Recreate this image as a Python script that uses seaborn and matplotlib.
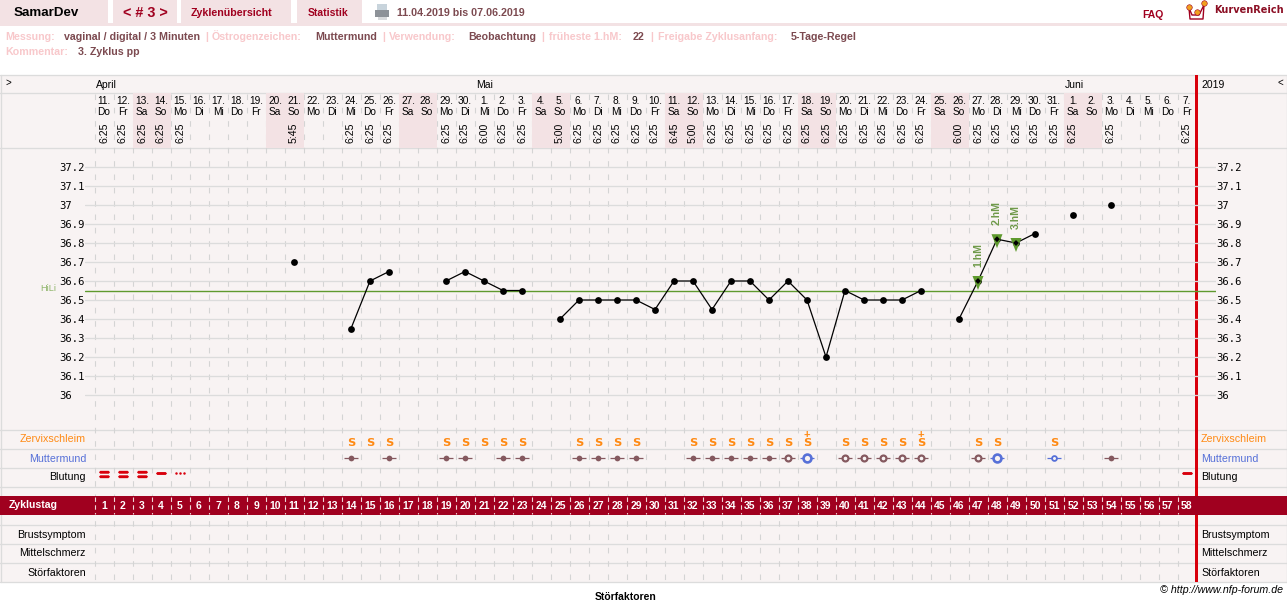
import numpy as np
import pandas as pd
import matplotlib.pyplot as plt
from matplotlib.path import Path
import seaborn as sns

# Daten aus der Zykluskurve
cycle_days = list(range(1, 59))
date_nums = [11, 12, 13, 14, 15, 16, 17, 18, 19, 20, 21, 22, 23, 24, 25, 26, 27, 28, 29, 30,
             1, 2, 3, 4, 5, 6, 7, 8, 9, 10, 11, 12, 13, 14, 15, 16, 17, 18, 19, 20, 21, 22, 23, 24, 25, 26, 27, 28, 29, 30, 31,
             1, 2, 3, 4, 5, 6, 7]
weekdays = ['Do', 'Fr', 'Sa', 'So', 'Mo', 'Di', 'Mi', 'Do', 'Fr', 'Sa', 'So', 'Mo', 'Di', 'Mi', 'Do', 'Fr', 'Sa', 'So', 'Mo', 'Di',
            'Mi', 'Do', 'Fr', 'Sa', 'So', 'Mo', 'Di', 'Mi', 'Do', 'Fr', 'Sa', 'So', 'Mo', 'Di', 'Mi', 'Do', 'Fr', 'Sa', 'So', 'Mo',
            'Di', 'Mi', 'Do', 'Fr', 'Sa', 'So', 'Mo', 'Di', 'Mi', 'Do', 'Fr', 'Sa', 'So', 'Mo', 'Di', 'Mi', 'Do', 'Fr']
times = ['6:25', '6:25', '6:25', '6:25', '6:25', '', '', '', '', '', '5:45', '', '', '6:25', '6:25', '6:25', '', '', '6:25', '6:25',
         '6:00', '6:25', '6:25', '', '5:00', '6:25', '6:25', '6:25', '6:25', '6:25', '6:45', '5:00', '6:25', '6:25', '6:25', '6:25',
         '6:25', '6:25', '6:25', '6:25', '6:25', '6:25', '6:25', '6:25', '', '6:00', '6:25', '6:25', '6:25', '6:25', '6:25', '6:25',
         '', '6:25', '', '', '', '6:25']
temps = [np.nan, np.nan, np.nan, np.nan, np.nan, np.nan, np.nan, np.nan, np.nan, np.nan, 36.7, np.nan, np.nan,
         36.35, 36.6, 36.65, np.nan, np.nan, 36.6, 36.65, 36.6, 36.55, 36.55, np.nan,
         36.4, 36.5, 36.5, 36.5, 36.5, 36.45, 36.6, 36.6, 36.45, 36.6, 36.6, 36.5, 36.6, 36.5, 36.2,
         36.55, 36.5, 36.5, 36.5, 36.55, np.nan, 36.4, 36.6, 36.82, 36.8, 36.85, np.nan, 36.95, np.nan, 37.0,
         np.nan, np.nan, np.nan, np.nan]
temp_ticks = [37.2, 37.1, 37.0, 36.9, 36.8, 36.7, 36.6, 36.5, 36.4, 36.3, 36.2, 36.1, 36.0]
temp_labels = ['37.2', '37.1', '37', '36.9', '36.8', '36.7', '36.6', '36.5', '36.4', '36.3', '36.2', '36.1', '36']
hili = 36.55
hm_days = [47, 48, 49]
hm_labels = ['1.hM', '2.hM', '3.hM']
schleim_days = [14, 15, 16, 19, 20, 21, 22, 23, 26, 27, 28, 29, 32, 33, 34, 35, 36, 37, 38, 40, 41, 42, 43, 44, 47, 48, 51]
schleim_plus_days = [38, 44]
mm_dot_days = [14, 16, 19, 20, 22, 23, 26, 27, 28, 29, 32, 33, 34, 35, 36, 54]
mm_ring_days = [37, 40, 41, 42, 43, 44, 47]
mm_big_days = [38, 48]
mm_small_days = [51]
blut_stark_days = [1, 2, 3]
blut_mittel_days = [4, 58]
blut_schmier_days = [5]
months = ['April', 'Mai', 'Juni']
month_first_days = [1, 21, 52]
row_names = ['Zervixschleim', 'Muttermund', 'Blutung']
lower_rows = ['Brustsymptom', 'Mittelschmerz', 'Störfaktoren']

W, H = 1287, 602
BG = '#f8f3f3'
PINK = '#f3e2e4'
LINE = '#dcdcdc'
DARKRED = '#a0001f'
RED = '#d8000c'
ORANGE = '#ff8a14'
BLUE = '#5670d8'
BROWN = '#85595f'
GREEN = '#5f9a2e'
PALE = '#f8c8cb'
VALUE = '#7c4a50'

sns.set_theme(style='white')
plt.rcParams['font.family'] = ['Liberation Sans', 'DejaVu Sans']

fig = plt.figure(figsize=(W / 100, H / 100), dpi=100)


def px_axes(left, top, right, bottom, zorder):
    a = fig.add_axes([left / W, 1 - bottom / H, (right - left) / W, (bottom - top) / H], zorder=zorder)
    a.patch.set_alpha(0)
    return a


def day_range(left, right):
    return 1 + (left - 104) / 19, 1 + (right - 104) / 19


# Seite: Kopfzeile, Tabellenraster
page = px_axes(0, 0, W, H, 0)
page.set_xlim(0, W)
page.set_ylim(H, 0)
page.axis('off')

for x0, x1 in [(0, 108), (113, 177), (181, 291), (297, 362)]:
    page.fill_between([x0, x1], 0, 23, color=PINK, lw=0)
page.fill_between([0, W], 23, 26, color=PINK, lw=0)
page.text(46, 13, 'SamarDev', ha='center', va='center', fontsize=9.6, fontweight='bold', color='black')
page.text(145, 13, '< # 3 >', ha='center', va='center', fontsize=10.4, fontweight='bold', color=DARKRED)
page.text(231.5, 13.5, 'Zyklenübersicht', ha='center', va='center', fontsize=7.7, fontweight='bold', color=DARKRED)
page.text(328, 13.5, 'Statistik', ha='center', va='center', fontsize=7.5, fontweight='bold', color=DARKRED)
page.fill_between([377, 387], 4, 10, color='#c8d4dc', lw=0)
page.fill_between([375, 389], 10, 17, color='#8d9298', lw=0)
page.fill_between([378, 387], 17, 20, color='#d8dadc', lw=0)
page.text(397, 13.5, '11.04.2019 bis 07.06.2019', va='center', fontsize=7.7, fontweight='bold', color=VALUE)
page.text(1142, 15, 'FAQ', va='center', fontsize=7.5, fontweight='bold', color=DARKRED)
page.plot([1189, 1192, 1199, 1204], [8, 15, 15, 5], color=DARKRED, lw=1)
page.plot([1189, 1190, 1203, 1204], [8, 19, 19, 5], color=DARKRED, lw=1)
page.scatter([1189, 1197, 1204], [7, 12, 3], s=16, color='#f0a020', zorder=3, edgecolor=DARKRED, lw=0.4)
page.text(1214, 10, 'KurvenReich', va='center', family='DejaVu Sans', fontsize=7, fontweight='bold', color='#8c0f24')

meta = [(5, 'Messung:', PALE), (64, 'vaginal / digital / 3 Minuten', VALUE), (205, '|', PALE),
        (212, 'Östrogenzeichen:', PALE), (315, 'Muttermund', VALUE), (382, '|', PALE),
        (389, 'Verwendung:', PALE), (468, 'Beobachtung', VALUE), (541, '|', PALE),
        (549, 'früheste 1.hM:', PALE), (633, '22', VALUE), (650, '|', PALE),
        (658, 'Freigabe Zyklusanfang:', PALE), (791, '5-Tage-Regel', VALUE)]
for x, s, c in meta:
    page.text(x, 40, s, va='baseline', fontsize=7.65, fontweight='bold', color=c)
page.text(5, 55, 'Kommentar:', va='baseline', fontsize=7.65, fontweight='bold', color=PALE)
page.text(78, 55, '3. Zyklus pp', va='baseline', fontsize=7.65, fontweight='bold', color=VALUE)

page.fill_between([0, W], 75, 582, color=BG, lw=0, zorder=0)
for y in [75, 93, 148, 430, 449, 468, 487, 525, 544, 563, 582]:
    page.plot([0, W], [y, y], color=LINE, lw=0.95, zorder=1)
page.plot([0.5, 0.5], [75, 582], color=LINE, lw=0.95, zorder=1)
page.plot([W - 0.5, W - 0.5], [75, 582], color=LINE, lw=0.95, zorder=1)

page.text(5, 83, '>', va='center', fontsize=7, color='black')
page.text(1278, 83, '<', va='center', fontsize=7, color='black')
page.text(1201, 85, '2019', va='center', fontsize=7.5, color='black')
page.text(1283, 590, '© http://www.nfp-forum.de', ha='right', va='center', fontsize=7.7, style='italic', color='black')
page.text(626, 600, 'Störfaktoren', ha='center', va='baseline', fontsize=7.5, fontweight='bold', color='black')

# Datumskopf, Wochenenden hinterlegt
head = px_axes(85, 93, 1216, 148, 2)
head.set_xlim(*day_range(85, 1216))
head.set_ylim(55, 0)
head.axis('off')
for d, num, wd, t in zip(cycle_days, date_nums, weekdays, times):
    if wd in ('Sa', 'So'):
        head.axvspan(d - 0.5, d + 0.5, color=PINK, lw=0, zorder=0)
    head.text(d, 8, f'{num}.', ha='center', va='center', fontsize=7.3, color='black')
    head.text(d, 18.5, wd, ha='center', va='center', fontsize=7.3, color='black')
    if t:
        head.text(d, 40, t, ha='center', va='center', rotation=90, fontsize=7.6, color='black')

# gestrichelte Tagesgrenzen
for k in range(59):
    x = 94.5 + 19 * k
    page.plot([x, x], [94, 582], color='#d4d4d4', lw=0.8, ls=(0, (5, 7)), zorder=1.5)

month_ax = px_axes(85, 75, 1216, 93, 2)
month_ax.set_xlim(*day_range(85, 1216))
month_ax.set_ylim(18, 0)
month_ax.axis('off')
for name, d in zip(months, month_first_days):
    month_ax.text(d - 0.42, 10, name, va='center', fontsize=7.5, color='black')

# Temperaturkurve
df = pd.DataFrame({'zyklustag': cycle_days, 'temp': temps})
df['segment'] = df['temp'].isna().cumsum()
df_temp = df.dropna()

ax = px_axes(85, 148, 1216, 430, 3)
ax.set_xlim(*day_range(85, 1216))
ax.set_ylim(37.2 - 263 / 190, 37.2 + 19 / 190)
ax.set_yticks(temp_ticks, temp_labels)
ax.set_xticks([])
ax.tick_params(axis='y', length=0, pad=18.7, labelsize=7.6, colors='black')
for lab in ax.get_yticklabels():
    lab.set_ha('left')
    lab.set_family('DejaVu Sans Mono')
for s in ax.spines.values():
    s.set_visible(False)
for t in temp_ticks:
    ax.axhline(t, color=LINE, lw=0.95, zorder=1)
ax.axhline(hili, color=GREEN, lw=1.0, zorder=2)
page.text(40, 288.5, 'HiLi', va='center', fontsize=6.6, color='#8fb56a')

sns.lineplot(data=df_temp, x='zyklustag', y='temp', units='segment', estimator=None, color='black', lw=0.9,
             marker='o', markersize=4.9, markeredgewidth=0, ax=ax, zorder=3, legend=False)

# Dreieck etwas unterhalb des Messpunkts, Messpunkt klein darüber
hm_marker = Path([(-5.5, 5), (5.5, 5), (0, -9), (-5.5, 5)], [Path.MOVETO, Path.LINETO, Path.LINETO, Path.CLOSEPOLY])
df_hm = df[df['zyklustag'].isin(hm_days)]
sns.scatterplot(data=df_hm, x='zyklustag', y='temp', marker=hm_marker, s=168, color=GREEN, edgecolor='none', ax=ax, zorder=4, legend=False)
sns.scatterplot(data=df_hm, x='zyklustag', y='temp', marker='D', s=9, color='black', edgecolor='none', ax=ax, zorder=5, legend=False)
ax.set_xlabel('')
ax.set_ylabel('')
for d, temp, lab in zip(hm_days, df_hm['temp'], hm_labels):
    ax.annotate(lab, (d, temp), xytext=(0, 10), textcoords='offset points', rotation=90, ha='center', va='bottom',
                fontsize=7.6, fontweight='bold', color='#6f9a4a')

ax_r = ax.twinx()
ax_r.set_ylim(ax.get_ylim())
ax_r.set_yticks(temp_ticks, temp_labels)
ax_r.tick_params(axis='y', length=0, pad=0.5, labelsize=7.6, colors='black')
for lab in ax_r.get_yticklabels():
    lab.set_family('DejaVu Sans Mono')
ax_r.patch.set_alpha(0)
for s in ax_r.spines.values():
    s.set_visible(False)
ax_r.grid(False)

# Symptomzeilen
rows = px_axes(85, 430, 1216, 487, 3)
rows.set_xlim(*day_range(85, 1216))
rows.set_ylim(2.5, -0.5)
for d in schleim_days:
    rows.text(d, 0.16, 'S', ha='center', va='center', fontsize=8.2, fontweight='bold', color=ORANGE, family='DejaVu Sans')
for d in schleim_plus_days:
    rows.text(d, -0.25, '+', ha='center', va='center', fontsize=8, fontweight='bold', color=ORANGE)

mm_y = 0.97


def mm_marks(days, color, size, lw, dash, filled):
    xs = pd.DataFrame({'tag': days, 'y': [mm_y] * len(days)})
    sns.scatterplot(data=xs, x='tag', y='y', marker='_', s=dash ** 2, color=color, linewidth=0.9, ax=rows, zorder=2, legend=False)
    sns.scatterplot(data=xs, x='tag', y='y', marker='o', s=size, facecolor=color if filled else BG, edgecolor=color,
                    linewidth=lw, ax=rows, zorder=3, legend=False)


mm_marks(mm_dot_days, BROWN, 17, 0, 9.5, True)
mm_marks(mm_ring_days, BROWN, 18, 1.6, 9.5, False)
mm_marks(mm_big_days, BLUE, 32, 1.9, 9.5, False)
mm_marks(mm_small_days, BLUE, 12, 1.3, 9.5, False)


def bleed_marker(stripes):
    # flache Balken mit spitzen Enden, Höhe/Abstand relativ zur Breite
    verts, codes = [], []
    for off in stripes:
        pts = [(-0.5, off), (-0.38, off - 0.13), (0.38, off - 0.13), (0.5, off), (0.38, off + 0.13), (-0.38, off + 0.13), (-0.5, off)]
        verts += pts
        codes += [Path.MOVETO] + [Path.LINETO] * 5 + [Path.CLOSEPOLY]
    return Path(verts, codes)


sns.scatterplot(x=blut_stark_days, y=[1.83] * len(blut_stark_days), marker=bleed_marker([-0.2, 0.2]), s=64, color=RED, linewidth=0, ax=rows, zorder=3, legend=False)
sns.scatterplot(x=blut_mittel_days, y=[1.75] * len(blut_mittel_days), marker=bleed_marker([0]), s=64, color=RED, linewidth=0, ax=rows, zorder=3, legend=False)
for d in blut_schmier_days:
    for dx in (-0.2, 0, 0.2):
        rows.scatter(d + dx, 1.75, s=3.2, color=RED, lw=0, zorder=3)
rows.axis('off')

# Zeilenbeschriftungen
label_colors = [ORANGE, BLUE, 'black']
for i, name in enumerate(row_names):
    y = 439.5 + 19 * i
    page.text(86, y, name, ha='right', va='center', fontsize=7.7, color=label_colors[i])
    page.text(1201, y, name, ha='left', va='center', fontsize=7.7, color=label_colors[i])
for i, name in enumerate(lower_rows):
    y = 534.5 + 19 * i
    page.text(86, y, name, ha='right', va='center', fontsize=7.7, color='black')
    page.text(1201, y, name, ha='left', va='center', fontsize=7.7, color='black')

# Roter Balken rechts und Zyklustag-Zeile
page.fill_between([1195, 1198], 75, 582, color=RED, lw=0, zorder=2)

bar = px_axes(0, 496, W, 515, 4)
bar.set_xlim(0, W)
bar.set_ylim(19, 0)
bar.set_facecolor(DARKRED)
bar.patch.set_alpha(1)
bar.set_xticks([])
bar.set_yticks([])
for s in bar.spines.values():
    s.set_visible(False)
bar.text(9, 9.5, 'Zyklustag', va='center', fontsize=7.6, fontweight='bold', color='white')
for k in range(58):
    x = 94.5 + 19 * k
    bar.plot([x, x], [1, 18], color='#f0d8d8', lw=0.8, ls=(0, (4, 3)))
    bar.text(x + 9.5, 9.8, str(cycle_days[k]), ha='center', va='center', fontsize=7.5, fontweight='bold', color='white')

fig.savefig('out.png', dpi=100)
plt.close(fig)
